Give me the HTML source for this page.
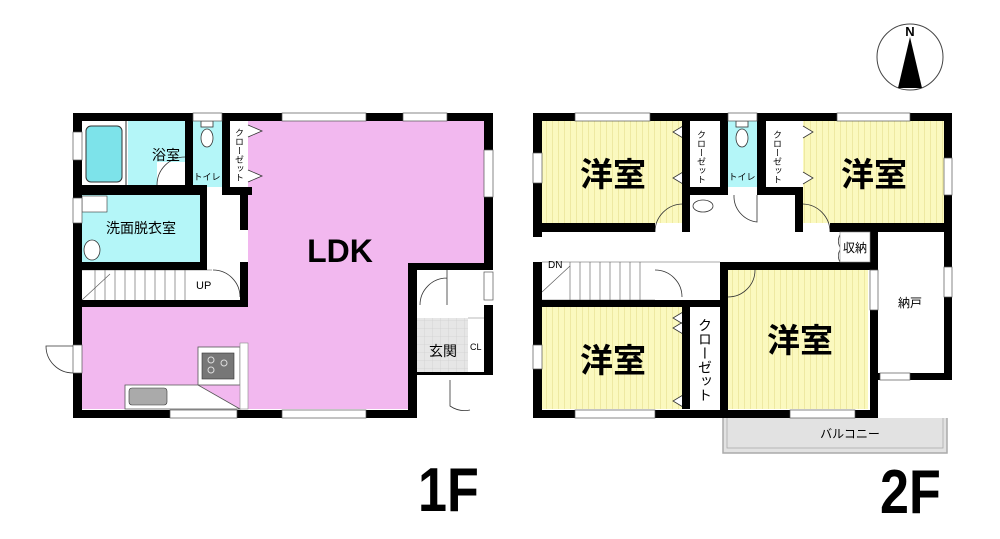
<!DOCTYPE html>
<html><head><meta charset="utf-8"><style>
body{margin:0;background:#fff;}
svg{display:block}
text{font-family:"Liberation Sans","Noto Sans CJK JP",sans-serif;}
</style></head><body>
<svg width="1000" height="539" viewBox="0 0 1000 539" xmlns="http://www.w3.org/2000/svg">
<defs>
<pattern id="yl" width="6" height="10" patternUnits="userSpaceOnUse">
<rect width="6" height="10" fill="#fbf9bf"/><rect x="0" width="1" height="10" fill="#eee9a2"/></pattern>
<pattern id="gr" width="8" height="8" patternUnits="userSpaceOnUse">
<rect width="8" height="8" fill="#e6e6e6"/><path d="M0 0H8M0 0V8" stroke="#c8c8c8" stroke-width="0.6"/></pattern>
</defs>

<circle cx="910" cy="57" r="33" fill="#fff" stroke="#444" stroke-width="1"/>
<polygon points="910,37 898,88 922,88" fill="#000"/>
<text x="910" y="36" font-size="13" font-weight="bold" text-anchor="middle" font-family="Liberation Serif,serif">N</text>

<rect x="73" y="113" width="420" height="305" fill="#fff"/>
<path d="M248 121H484V263H408V409H82V305H248Z" fill="#f2b8ef"/>
<rect x="82" y="121" width="103" height="64" fill="#fff"/>
<rect x="128" y="121" width="57" height="64" fill="#b4f6f8"/>
<rect x="86" y="126" width="36" height="56" rx="5" fill="#7de3ea" stroke="#333" stroke-width="1"/>
<line x1="126" y1="121" x2="126" y2="185" stroke="#333" stroke-width="1"/>
<rect x="157" y="162" width="28" height="23" fill="#fff"/>
<path d="M157 185A28 28 0 0 1 185 157" fill="none" stroke="#333" stroke-width="0.8"/>
<rect x="193" y="121" width="29" height="66" fill="#b4f6f8"/>
<ellipse cx="207" cy="138" rx="6" ry="9" fill="#fff" stroke="#333" stroke-width="0.8"/>
<rect x="201" y="121" width="12" height="6" fill="#fff" stroke="#333" stroke-width="0.8"/>
<rect x="230" y="121" width="18" height="66" fill="#fff"/>
<path d="M248 125L262 131L248 137M248 170L262 176L248 182" fill="#fff" stroke="#333" stroke-width="0.8"/>
<rect x="82" y="195" width="118" height="67" fill="#b4f6f8"/>
<rect x="82" y="196" width="25" height="16" fill="#fff" stroke="#333" stroke-width="0.6"/>
<ellipse cx="92" cy="250" rx="8" ry="10" fill="#fff" stroke="#333" stroke-width="0.8"/>
<rect x="200" y="195" width="40" height="110" fill="#fff"/>
<rect x="82" y="270" width="131" height="30" fill="#fff"/>
<g stroke="#555" stroke-width="0.6">
<line x1="82" y1="270" x2="212" y2="270"/>
<path d="M95 270V300M105 270V300M115 270V300M125 270V300M135 270V300M145 270V300M155 270V300M165 270V300M175 270V300M185 270V300"/>
<path d="M82 300L110 274"/>
</g>
<path d="M213 270A27 27 0 0 1 240 297" fill="none" stroke="#333" stroke-width="0.8"/>
<text x="196" y="289" font-size="11">UP</text>
<rect x="417" y="270" width="67" height="139" fill="#fff"/>
<rect x="417" y="318" width="51" height="54" fill="url(#gr)"/>
<line x1="468" y1="318" x2="484" y2="318" stroke="#888" stroke-width="0.6"/>
<path d="M420 305A27 27 0 0 1 447 278M447 305V270" fill="none" stroke="#333" stroke-width="0.8"/>
<path d="M450 380V406A26 26 0 0 0 470 410" fill="none" stroke="#333" stroke-width="0.8"/>
<rect x="198" y="347" width="42" height="38" fill="#fff" stroke="#555" stroke-width="0.8"/>
<rect x="202" y="353" width="32" height="26" fill="#777" stroke="#333" stroke-width="0.6"/>
<circle cx="211" cy="360" r="3" fill="none" stroke="#ddd"/><circle cx="224" cy="363" r="3" fill="none" stroke="#ddd"/><circle cx="211" cy="370" r="3" fill="none" stroke="#ddd"/>
<path d="M125 385H198L240 409H125Z" fill="#fff" stroke="#555" stroke-width="0.8"/>
<rect x="129" y="388" width="38" height="17" rx="3" fill="#aaa" stroke="#333" stroke-width="0.6"/>
<rect x="240" y="343" width="8" height="66" fill="#fff" stroke="#888" stroke-width="0.6"/>
<g fill="#000">
<rect x="73" y="113" width="420" height="8"/>
<rect x="73" y="410" width="344" height="8"/>
<rect x="73" y="113" width="9" height="305"/>
<rect x="484" y="113" width="9" height="157"/>
<rect x="484" y="305" width="9" height="70"/>
<rect x="408" y="263" width="85" height="7"/>
<rect x="408" y="263" width="9" height="155"/>
<rect x="417" y="372" width="68" height="3"/>
<rect x="73" y="185" width="134" height="10"/>
<rect x="185" y="113" width="8" height="82"/>
<rect x="222" y="113" width="8" height="82"/>
<rect x="222" y="187" width="30" height="8"/>
<rect x="73" y="262" width="134" height="8"/>
<rect x="200" y="195" width="7" height="75"/>
<rect x="73" y="300" width="170" height="7"/>
<rect x="240" y="262" width="8" height="45"/>
<rect x="240" y="195" width="8" height="35"/>
</g>
<g fill="#fff" stroke="#555" stroke-width="0.7">
<rect x="282" y="113" width="84" height="8"/><rect x="403" y="113" width="44" height="8"/>
<rect x="170" y="410" width="67" height="8"/><rect x="282" y="410" width="84" height="8"/>
<rect x="73" y="132" width="9" height="28"/><rect x="73" y="198" width="9" height="25"/>
<rect x="73" y="345" width="9" height="28"/>
<rect x="484" y="150" width="9" height="47"/><rect x="484" y="272" width="9" height="28"/>
<rect x="193" y="113" width="29" height="8"/>
</g>
<path d="M73 346H46A27 27 0 0 0 73 373" fill="none" stroke="#333" stroke-width="0.8"/>
<text x="166" y="160" font-size="14" text-anchor="middle">浴室</text>
<text x="207" y="180" font-size="9" text-anchor="middle">トイレ</text>
<text x="239" y="128" font-size="9" writing-mode="tb">クローゼット</text>
<text x="141" y="233" font-size="14" text-anchor="middle">洗面脱衣室</text>
<text x="340" y="262" font-size="32" font-weight="bold" text-anchor="middle">LDK</text>
<text x="443" y="356" font-size="14" text-anchor="middle">玄関</text>
<text x="470" y="350" font-size="9">CL</text>

<rect x="723" y="378" width="224" height="75" fill="#e2e2e2" stroke="#aaa" stroke-width="1.5"/>
<rect x="727" y="378" width="216" height="70" fill="none" stroke="#aaa" stroke-width="0.8"/>
<text x="850" y="438" font-size="12" text-anchor="middle">バルコニー</text>
<rect x="533" y="113" width="419" height="305" fill="#fff"/>
<rect x="542" y="121" width="141" height="102" fill="url(#yl)"/>
<rect x="803" y="121" width="141" height="102" fill="url(#yl)"/>
<rect x="542" y="307" width="141" height="102" fill="url(#yl)"/>
<rect x="728" y="270" width="140" height="139" fill="url(#yl)"/>
<rect x="728" y="121" width="29" height="66" fill="#b4f6f8"/>
<ellipse cx="742" cy="138" rx="6" ry="9" fill="#fff" stroke="#333" stroke-width="0.8"/>
<rect x="736" y="121" width="12" height="6" fill="#fff" stroke="#333" stroke-width="0.8"/>
<ellipse cx="703" cy="206" rx="10" ry="6" fill="#fff" stroke="#333" stroke-width="0.8"/>
<g fill="#fff" stroke="#333" stroke-width="0.8">
<path d="M683 126L673 132L683 138M683 172L673 178L683 184"/>
<path d="M803 126L813 132L803 138M803 172L813 178L803 184"/>
<path d="M683 312L673 318L683 324M683 322L673 328L683 334M683 395L673 401L683 407"/>
</g>
<g stroke="#555" stroke-width="0.6" fill="none">
<path d="M542 262H720M542 300H655"/>
<path d="M570 262V300M580 262V300M590 262V300M600 262V300M610 262V300M620 262V300M630 262V300M640 262V300"/>
<path d="M542 292L570 266"/>
</g>
<g fill="none" stroke="#333" stroke-width="0.8">
<path d="M655 232A28 28 0 0 1 683 204"/>
<path d="M803 204A28 28 0 0 1 830 232"/>
<path d="M734 195A26 26 0 0 0 757 222V195"/>
<path d="M655 270A27 27 0 0 1 682 297"/>
<path d="M728 297A27 27 0 0 0 755 270"/>
<path d="M840 235A12 12 0 0 0 840 247M840 250A12 12 0 0 0 840 262"/>
</g>
<text x="548" y="268" font-size="10">DN</text>
<g fill="#000">
<rect x="533" y="113" width="419" height="8"/>
<rect x="533" y="410" width="344" height="8"/>
<rect x="533" y="113" width="9" height="124"/>
<rect x="533" y="262" width="9" height="156"/>
<rect x="944" y="113" width="8" height="267"/>
<rect x="533" y="223" width="122" height="9"/>
<rect x="682" y="113" width="8" height="119"/>
<rect x="720" y="113" width="8" height="82"/>
<rect x="757" y="113" width="9" height="82"/>
<rect x="682" y="187" width="46" height="8"/>
<rect x="757" y="187" width="46" height="8"/>
<rect x="795" y="187" width="8" height="45"/>
<rect x="830" y="223" width="122" height="9"/>
<rect x="870" y="232" width="8" height="186"/>
<rect x="878" y="373" width="74" height="7"/>
<rect x="720" y="262" width="158" height="8"/>
<rect x="533" y="300" width="187" height="7"/>
<rect x="720" y="262" width="8" height="156"/>
<rect x="682" y="307" width="8" height="102"/>
</g>
<g fill="#fff" stroke="#555" stroke-width="0.7">
<rect x="575" y="113" width="75" height="8"/><rect x="837" y="113" width="73" height="8"/>
<rect x="575" y="410" width="80" height="8"/><rect x="790" y="410" width="65" height="8"/>
<rect x="533" y="153" width="9" height="30"/><rect x="533" y="345" width="9" height="24"/>
<rect x="944" y="158" width="8" height="37"/><rect x="944" y="267" width="8" height="30"/>
<rect x="728" y="113" width="29" height="8"/><rect x="880" y="373" width="30" height="7"/>
<rect x="870" y="270" width="8" height="40"/>
</g>
<rect x="690" y="121" width="30" height="66" fill="#fff"/>
<rect x="766" y="121" width="29" height="66" fill="#fff"/>
<rect x="690" y="307" width="30" height="102" fill="#fff"/>
<rect x="840" y="232" width="30" height="30" fill="#fff" stroke="#888" stroke-width="0.6"/>
<g font-size="33" font-weight="bold" text-anchor="middle">
<text x="613" y="186">洋室</text><text x="874" y="186">洋室</text>
<text x="613" y="372">洋室</text><text x="800" y="352">洋室</text>
</g>
<text x="701" y="130" font-size="9" writing-mode="tb">クローゼット</text>
<text x="777" y="130" font-size="9" writing-mode="tb">クローゼット</text>
<text x="705" y="318" font-size="14" writing-mode="tb">クローゼット</text>
<text x="742" y="180" font-size="9" text-anchor="middle">トイレ</text>
<text x="855" y="252" font-size="12" text-anchor="middle">収納</text>
<text x="910" y="307" font-size="12" text-anchor="middle">納戸</text>

<text x="0" y="0" font-size="62" font-weight="bold" transform="translate(418,511) scale(0.84,1)">1F</text>
<text x="0" y="0" font-size="62" font-weight="bold" transform="translate(880,513) scale(0.84,1)">2F</text>
</svg>
</body></html>
